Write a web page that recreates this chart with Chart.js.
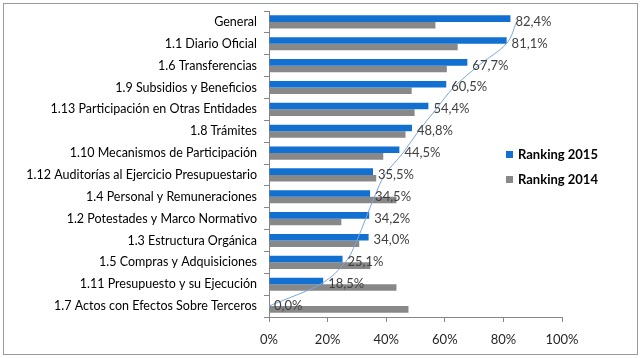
<!DOCTYPE html>
<html>
<head>
<meta charset="utf-8">
<script src="https://cdn.jsdelivr.net/npm/chart.js@4.4.0/dist/chart.umd.min.js"></script>
<style>
  html, body { margin: 0; padding: 0; background: #fff; }
  #wrap { width: 642px; height: 358px; position: relative; }
</style>
</head>
<body>
<div id="wrap"><canvas id="rankingChart" width="642" height="358"></canvas></div>
<script>
// categorías (de arriba hacia abajo)
const categorias = [
    'General',
    '1.1 Diario Oficial',
    '1.6 Transferencias',
    '1.9 Subsidios y Beneficios',
    '1.13 Participación en Otras Entidades',
    '1.8 Trámites',
    '1.10 Mecanismos de Participación',
    '1.12 Auditorías al Ejercicio Presupuestario',
    '1.4 Personal y Remuneraciones',
    '1.2 Potestades y Marco Normativo',
    '1.3 Estructura Orgánica',
    '1.5 Compras y Adquisiciones',
    '1.11 Presupuesto y su Ejecución',
    '1.7 Actos con Efectos Sobre Terceros'
];
const ranking2015 = [82.4, 81.1, 67.7, 60.5, 54.4, 48.8, 44.5, 35.5, 34.5, 34.2, 34.0, 25.1, 18.5, 0.0];
const ranking2014 = [56.8, 64.4, 60.7, 48.7, 49.7, 46.6, 39.0, 36.6, 43.5, 24.7, 30.8, 34.6, 43.5, 47.6];
// línea de tendencia
const tendencia = [84.5, 81.0, 71.5, 63.0, 57.0, 51.0, 45.7, 39.5, 36.0, 33.0, 30.0, 26.0, 17.5, 0.0];
const ticksX = [0, 20, 40, 60, 80, 100];

const FONT = 'Lato, "Open Sans", sans-serif';

// marco, etiquetas de datos y leyenda
const extras = {
    id: 'extras',
    beforeDraw(chart) {
        const ctx = chart.ctx;
        ctx.save();
        ctx.strokeStyle = '#9a9a9a';
        ctx.lineWidth = 1;
        ctx.strokeRect(3.5, 3.5, 634, 351);
        ctx.restore();
    },
    afterDatasetsDraw(chart) {
        const ctx = chart.ctx;
        const meta = chart.getDatasetMeta(0);
        ctx.save();
        ctx.font = '13px ' + FONT;
        ctx.fillStyle = '#404040';
        ctx.textBaseline = 'middle';
        ctx.textAlign = 'left';
        meta.data.forEach(function(el, i) {
            const txt = ranking2015[i].toFixed(1).replace('.', ',') + '%';
            ctx.fillText(txt, el.x + 5, el.y + 3);
        });

        // leyenda
        const items = [chart.data.datasets[0], chart.data.datasets[1]];
        ctx.font = 'bold 13px ' + FONT;
        items.forEach(function(ds, i) {
            const y = 155 + i * 25;
            ctx.fillStyle = ds.backgroundColor;
            ctx.fillRect(506, y - 4, 7, 7);
            ctx.fillStyle = '#000';
            ctx.fillText(ds.label, 518, y);
        });
        ctx.restore();
    }
};

const ctx = document.getElementById('rankingChart').getContext('2d');
const rankingChart = new Chart(ctx, {
    type: 'bar',
    data: {
        labels: categorias,
        datasets: [
            {
                label: 'Ranking 2015',
                data: ranking2015,
                backgroundColor: '#1270d0',
                categoryPercentage: 0.6,
                barPercentage: 1.0,
                order: 1
            },
            {
                label: 'Ranking 2014',
                data: ranking2014,
                backgroundColor: '#888888',
                categoryPercentage: 0.6,
                barPercentage: 1.0,
                order: 1
            },
            {
                type: 'line',
                label: 'tendencia',
                data: tendencia,
                borderColor: '#7aa5dc',
                borderWidth: 1,
                pointRadius: 0,
                cubicInterpolationMode: 'monotone',
                fill: false,
                order: 0
            }
        ]
    },
    options: {
        indexAxis: 'y',
        responsive: false,
        animation: false,
        layout: { padding: { left: 0, right: 80, top: 11, bottom: 0 } },
        scales: {
            x: {
                min: 0,
                max: 100,
                afterBuildTicks(scale) {
                    scale.ticks = ticksX.map(function(v) { return { value: v }; });
                },
                afterFit(scale) { scale.height = 41; },
                border: { color: '#868686' },
                grid: { drawOnChartArea: false, tickLength: 5, color: '#868686' },
                ticks: {
                    padding: 10,
                    maxRotation: 0,
                    color: '#262626',
                    font: { family: FONT, size: 13 },
                    callback: function(v) { return v + '%'; }
                }
            },
            y: {
                afterFit(scale) {
                    scale.width = 269;
                    scale.paddingTop = 0;
                    scale.paddingBottom = 0;
                },
                border: { color: '#868686' },
                grid: { drawOnChartArea: false, offset: true, tickLength: 5, color: '#868686' },
                ticks: {
                    padding: 7,
                    autoSkip: false,
                    color: '#000',
                    font: { family: FONT, size: 12.5 }
                }
            }
        },
        plugins: {
            legend: { display: false },
            tooltip: { enabled: false }
        }
    },
    plugins: [extras]
});
</script>
</body>
</html>
